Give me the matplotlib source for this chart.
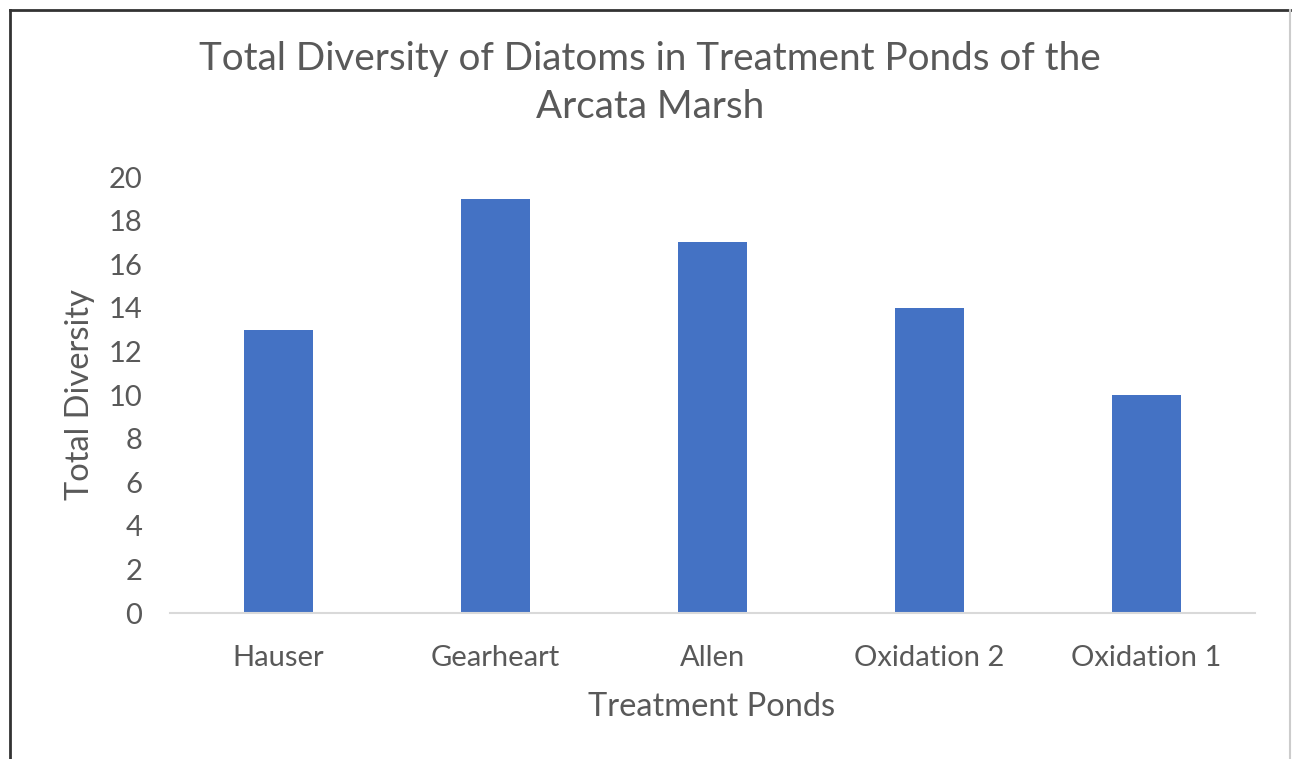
import matplotlib
matplotlib.use("Agg")
import matplotlib.pyplot as plt
from matplotlib.lines import Line2D

categories = ["Hauser", "Gearheart", "Allen", "Oxidation 2", "Oxidation 1"]
values = [13, 19, 17, 14, 10]
yticks = [0, 2, 4, 6, 8, 10, 12, 14, 16, 18, 20]
title_lines = ["Total Diversity of Diatoms in Treatment Ponds of the", "Arcata Marsh"]

W, H = 1292, 759
fig = plt.figure(figsize=(W / 100, H / 100), dpi=100)
plt.rcParams['font.family'] = ['Lato', 'DejaVu Sans']
gray = '#595959'

ax = fig.add_axes([170 / W, 1 - 613 / H, (1255 - 170) / W, (613 - 177) / H])
x = list(range(len(categories)))
ax.bar(x, values, width=0.32, color='#4472C4')
ax.set_xlim(-0.5, len(categories) - 0.5)
ax.set_ylim(0, 20)
ax.set_yticks(yticks)
ax.set_yticklabels([str(t) for t in yticks])
ax.set_xticks(x)
ax.set_xticklabels(categories)
for s in ['top', 'right', 'left']:
    ax.spines[s].set_visible(False)
ax.spines['bottom'].set_color('#D9D9D9')
ax.spines['bottom'].set_linewidth(1.5)
ax.tick_params(axis='both', length=0, labelsize=21, labelcolor=gray)
ax.tick_params(axis='y', pad=20)
ax.tick_params(axis='x', pad=23)

fig.text(650 / W, 1 - 59 / H, title_lines[0], ha='center', va='center', fontsize=27.8, color=gray)
fig.text(650 / W, 1 - 107 / H, title_lines[1], ha='center', va='center', fontsize=27.8, color=gray)
fig.text(712 / W, 1 - 707 / H, "Treatment Ponds", ha='center', va='center', fontsize=23.5, color=gray)
fig.text(80 / W, 1 - 395 / H, "Total Diversity", ha='center', va='center', fontsize=23.5,
         color=gray, rotation=90)

# outer border
fig.add_artist(Line2D([10 / W, 10 / W], [0, 1 - 10 / H], transform=fig.transFigure, color='#333333', lw=2))
fig.add_artist(Line2D([10 / W, 1290 / W], [1 - 10 / H, 1 - 10 / H], transform=fig.transFigure, color='#333333', lw=2))
fig.add_artist(Line2D([1290 / W, 1290 / W], [0, 1 - 10 / H], transform=fig.transFigure, color='#CCCCCC', lw=1.5))

fig.savefig("out.png", dpi=100)
